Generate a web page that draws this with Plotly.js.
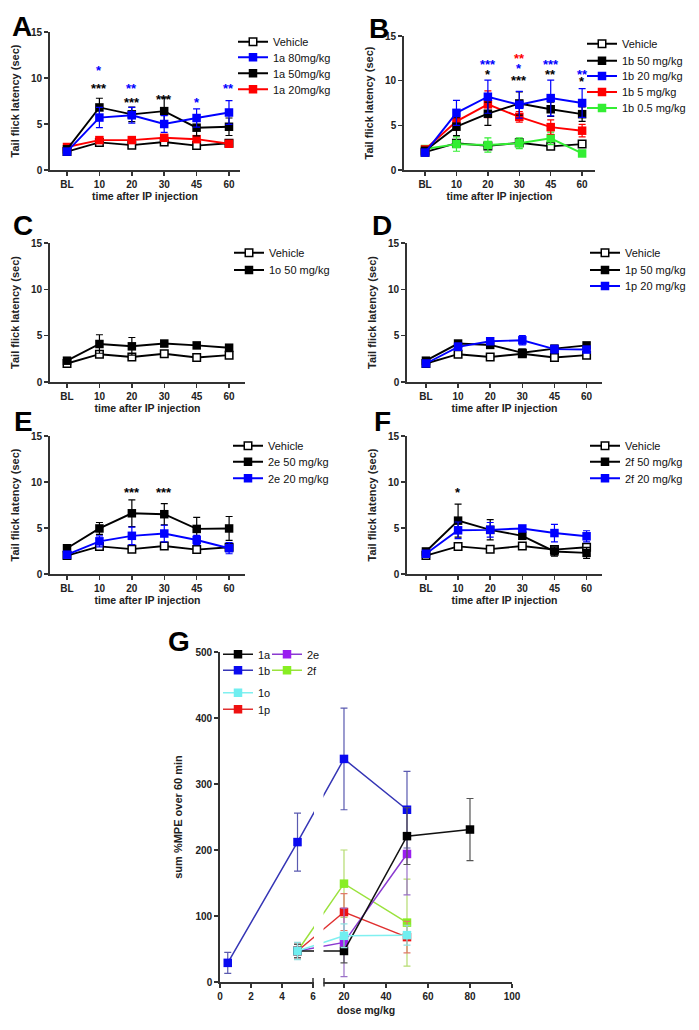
<!DOCTYPE html>
<html><head><meta charset="utf-8">
<script src="https://cdn.plot.ly/plotly-3.0.1.min.js"></script>
<style>html,body{margin:0;padding:0;background:#fff}#chart{width:699px;height:1030px}</style>
</head><body><div id="chart"></div>
<script>
// ---------------- DATA ----------------
const timeCats = ['BL', '10', '20', '30', '45', '60'];

const vehicleMean = [2.0, 3.0, 2.7, 3.05, 2.65, 2.9];
const vehicleErr  = [0.2, 0.35, 0.3, 0.3, 0.3, 0.3];

// Panel A
const a80Mean = [2.0, 5.7, 5.95, 5.0, 5.65, 6.25];
const a80Err  = [0.2, 1.1, 0.85, 0.9, 1.0, 1.3];
const a50Mean = [2.25, 6.8, 6.05, 6.4, 4.6, 4.7];
const a50Err  = [0.2, 1.0, 0.8, 1.45, 0.9, 0.95];
const a20Mean = [2.5, 3.25, 3.25, 3.5, 3.35, 2.85];
const a20Err  = [0.2, 0.3, 0.3, 0.3, 0.3, 0.3];
const starsA_x = ['10', '10', '20', '20', '30', '45', '60'];
const starsA_y = [11.1, 9.15, 9.2, 7.7, 8.0, 7.7, 9.2];
const starsA_t = ['*', '***', '**', '***', '***', '*', '**'];
const starsA_c = ['blue', 'black', 'blue', 'black', 'black', 'blue', 'blue'];

// Panel B
const b50Mean  = [2.15, 4.85, 6.3, 7.45, 6.8, 6.25];
const b50Err   = [0.2, 1.0, 1.3, 1.3, 0.8, 0.8];
const b20Mean  = [1.95, 6.4, 8.2, 7.3, 8.05, 7.5];
const b20Err   = [0.2, 1.4, 1.85, 1.5, 2.0, 1.6];
const b5Mean   = [2.3, 5.45, 7.35, 5.95, 4.8, 4.4];
const b5Err    = [0.2, 1.0, 1.5, 0.6, 0.8, 0.7];
const b05Mean  = [2.35, 2.9, 2.8, 3.0, 3.55, 1.85];
const b05Err   = [0.2, 0.8, 0.8, 0.6, 0.7, 0.3];
const starsB_x = ['20', '20', '30', '30', '30', '45', '45', '60', '60'];
const starsB_y = [12.1, 11.05, 12.8, 11.65, 10.4, 12.1, 11.05, 11.05, 10.2];
const starsB_t = ['***', '*', '**', '*', '***', '***', '**', '**', '*'];
const starsB_c = ['blue', 'black', 'red', 'blue', 'black', 'blue', 'black', 'blue', 'black'];

// Panel C
const o50Mean = [2.3, 4.1, 3.85, 4.15, 3.95, 3.7];
const o50Err  = [0.2, 1.0, 0.95, 0.3, 0.3, 0.25];

// Panel D
const p50Mean = [2.3, 4.15, 4.0, 3.15, 3.6, 3.95];
const p50Err  = [0.2, 0.3, 0.3, 0.4, 0.3, 0.3];
const p20Mean = [2.0, 3.8, 4.4, 4.5, 3.55, 3.5];
const p20Err  = [0.2, 0.4, 0.3, 0.5, 0.4, 0.3];

// Panel E
const e50Mean = [2.8, 4.95, 6.6, 6.5, 4.9, 4.95];
const e50Err  = [0.2, 0.65, 1.45, 1.15, 1.25, 1.3];
const e20Mean = [2.1, 3.55, 4.15, 4.4, 3.7, 2.8];
const e20Err  = [0.2, 0.6, 0.95, 0.9, 0.5, 0.6];
const starsE_x = ['20', '30'];
const starsE_y = [9.15, 9.15];
const starsE_t = ['***', '***'];
const starsE_c = ['black', 'black'];

// Panel F
const f50Mean = [2.45, 5.8, 4.8, 4.15, 2.45, 2.3];
const f50Err  = [0.2, 1.8, 1.1, 0.4, 0.5, 0.6];
const f20Mean = [2.2, 4.75, 4.8, 4.95, 4.45, 4.1];
const f20Err  = [0.2, 0.9, 0.8, 0.3, 0.95, 0.6];
const starsF_x = ['10'];
const starsF_y = [9.15];
const starsF_t = ['*'];
const starsF_c = ['black'];

// Panel G (dose mg/kg vs sum %MPE over 60 min)
const g1aDose = [5, 20, 50, 80];
const g1aMean = [47, 47, 221, 231];
const g1aErr  = [10, 18, 43, 47];
const g1bDose = [0.5, 5, 20, 50];
const g1bMean = [29, 212, 338, 261];
const g1bErr  = [16, 44, 77, 58];
const g1oDose = [5, 20, 50];
const g1oMean = [47, 70, 71];
const g1oErr  = [13, 18, 15];
const g1pDose = [5, 20, 50];
const g1pMean = [47, 106, 68];
const g1pErr  = [10, 28, 24];
const g2eDose = [5, 20, 50];
const g2eMean = [47, 60, 194];
const g2eErr  = [10, 52, 62];
const g2fDose = [5, 20, 50];
const g2fMean = [47, 149, 90];
const g2fErr  = [10, 51, 66];
const gTickDoses = [0, 2, 4, 6, 20, 40, 60, 80, 100];
const gTickText  = ['0', '2', '4', '6', '20', '40', '60', '80', '100'];

// ---------------- LAYOUT HELPERS ----------------
const W = 699, H = 1030;
const F = 'Liberation Sans, Arial, Helvetica, sans-serif';
const px = v => v / W;
const py = v => 1 - v / H;
const COL = {black: '#000000', blue: '#0000ff', red: '#ff0000', green: '#33ee33'};

const layout = {
  width: W, height: H, margin: {l: 0, r: 0, t: 0, b: 0},
  paper_bgcolor: '#fff', plot_bgcolor: 'rgba(0,0,0,0)',
  showlegend: true, font: {family: F, color: '#111'},
  annotations: [], shapes: [], hovermode: false
};
const data = [];
let legendCount = 0;
function newLegend(textX, yc) {
  legendCount++;
  const id = legendCount === 1 ? 'legend' : 'legend' + legendCount;
  layout[id] = {x: px(textX - 40), y: py(yc), xanchor: 'left', yanchor: 'middle',
    bgcolor: 'rgba(0,0,0,0)', borderwidth: 0, itemclick: false, itemdoubleclick: false,
    font: {family: F, size: 11, color: '#111'}};
  return id;
}
function axId(n) { return n === 1 ? '' : String(n); }

function addSeries(n, x, y, e, name, color, legendId, open, st) {
  const a = axId(n);
  st = st || {};
  data.push({
    type: 'scatter', mode: 'lines+markers', x: x, y: y, name: name,
    xaxis: 'x' + a, yaxis: 'y' + a, legend: legendId,
    line: {color: st.line || color, width: st.lw || 1.9},
    marker: open ? {symbol: 'square', size: 7.5, color: '#ffffff', line: {color: color, width: 1.5}}
                 : {symbol: 'square', size: 8.5, color: color, line: {width: 0}},
    error_y: {type: 'data', array: e, visible: true, color: st.err || color, thickness: 1.2, width: 3.5},
    hoverinfo: 'skip'
  });
}

const axBase = () => ({showline: true, linecolor: '#333', linewidth: 1.8, ticks: 'outside', ticklen: 4,
  tickwidth: 1.5, tickcolor: '#333', showgrid: false, zeroline: false, fixedrange: true,
  tickfont: {family: F, size: 10, weight: 'bold', color: '#222'}});

// Panels A-F
const panels = [
  {n: 1, x: [50, 240], y: [32, 170], rng: [-0.525, 5.34], letter: 'A', lx: 22, ly: 27},
  {n: 2, x: [404, 595], y: [36, 170], rng: [-0.67, 5.41], letter: 'B', lx: 379, ly: 28},
  {n: 3, x: [50, 245], y: [243, 382], rng: [-0.525, 5.49], letter: 'C', lx: 23, ly: 225},
  {n: 4, x: [407, 602], y: [243, 382], rng: [-0.59, 5.48], letter: 'D', lx: 382, ly: 225},
  {n: 5, x: [50, 245], y: [436, 574], rng: [-0.525, 5.49], letter: 'E', lx: 23, ly: 421},
  {n: 6, x: [407, 602], y: [436, 574], rng: [-0.59, 5.48], letter: 'F', lx: 382, ly: 421}
];
panels.forEach(p => {
  const a = axId(p.n);
  layout['xaxis' + a] = Object.assign(axBase(), {
    type: 'category', categoryorder: 'array', categoryarray: timeCats, range: p.rng,
    domain: [px(p.x[0]), px(p.x[1])], anchor: 'y' + a,
    title: {text: 'time after IP injection', font: {family: F, size: 10.5, weight: 'bold', color: '#222'}, standoff: 3}
  });
  layout['yaxis' + a] = Object.assign(axBase(), {
    range: [0, 15], tickvals: [0, 5, 10, 15], domain: [py(p.y[1]), py(p.y[0])], anchor: 'x' + a,
    title: {text: 'Tail flick latency (sec)', font: {family: F, size: 11, weight: 'bold', color: '#222'}, standoff: 9}
  });
  layout.annotations.push({xref: 'paper', yref: 'paper', x: px(p.lx), y: py(p.ly), text: p.letter,
    showarrow: false, xanchor: 'center', yanchor: 'middle', font: {family: F, size: 28, weight: 'bold', color: '#000'}});
});

function addStars(n, xs, ys, ts, cs) {
  const a = axId(n);
  xs.forEach((x, i) => layout.annotations.push({xref: 'x' + a, yref: 'y' + a, x: timeCats.indexOf(x), y: ys[i], text: ts[i],
    showarrow: false, yshift: -3, font: {family: F, size: 13, weight: 'bold', color: COL[cs[i]]}}));
}

// Panel A
let L = [];
[41.7, 57.3, 73.3, 89.3].forEach(y => L.push(newLegend(273, y)));
addSeries(1, timeCats, vehicleMean, vehicleErr, 'Vehicle', COL.black, L[0], true);
addSeries(1, timeCats, a20Mean, a20Err, '1a 20mg/kg', COL.red, L[3]);
addSeries(1, timeCats, a50Mean, a50Err, '1a 50mg/kg', COL.black, L[2]);
addSeries(1, timeCats, a80Mean, a80Err, '1a 80mg/kg', COL.blue, L[1]);
addStars(1, starsA_x, starsA_y, starsA_t, starsA_c);

// Panel B
L = [];
[43.7, 60.7, 76, 92, 108].forEach(y => L.push(newLegend(622, y)));
addSeries(2, timeCats, vehicleMean, vehicleErr, 'Vehicle', COL.black, L[0], true);
addSeries(2, timeCats, b05Mean, b05Err, '1b 0.5 mg/kg', COL.green, L[4]);
addSeries(2, timeCats, b5Mean, b5Err, '1b 5 mg/kg', COL.red, L[3]);
addSeries(2, timeCats, b50Mean, b50Err, '1b 50 mg/kg', COL.black, L[1]);
addSeries(2, timeCats, b20Mean, b20Err, '1b 20 mg/kg', COL.blue, L[2]);
addStars(2, starsB_x, starsB_y, starsB_t, starsB_c);

// Panel C
L = [];
[252.7, 270].forEach(y => L.push(newLegend(269, y)));
addSeries(3, timeCats, vehicleMean, vehicleErr, 'Vehicle', COL.black, L[0], true);
addSeries(3, timeCats, o50Mean, o50Err, '1o 50 mg/kg', COL.black, L[1]);

// Panel D
L = [];
[252.7, 270, 286].forEach(y => L.push(newLegend(625, y)));
addSeries(4, timeCats, vehicleMean, vehicleErr, 'Vehicle', COL.black, L[0], true);
addSeries(4, timeCats, p50Mean, p50Err, '1p 50 mg/kg', COL.black, L[1]);
addSeries(4, timeCats, p20Mean, p20Err, '1p 20 mg/kg', COL.blue, L[2]);

// Panel E
L = [];
[445.7, 461.7, 478.3].forEach(y => L.push(newLegend(268, y)));
addSeries(5, timeCats, vehicleMean, vehicleErr, 'Vehicle', COL.black, L[0], true);
addSeries(5, timeCats, e50Mean, e50Err, '2e 50 mg/kg', COL.black, L[1]);
addSeries(5, timeCats, e20Mean, e20Err, '2e 20 mg/kg', COL.blue, L[2]);
addStars(5, starsE_x, starsE_y, starsE_t, starsE_c);

// Panel F
L = [];
[445.7, 461.7, 478.3].forEach(y => L.push(newLegend(625, y)));
addSeries(6, timeCats, vehicleMean, vehicleErr, 'Vehicle', COL.black, L[0], true);
addSeries(6, timeCats, f50Mean, f50Err, '2f 50 mg/kg', COL.black, L[1]);
addSeries(6, timeCats, f20Mean, f20Err, '2f 20 mg/kg', COL.blue, L[2]);
addStars(6, starsF_x, starsF_y, starsF_t, starsF_c);

// ---------------- PANEL G (broken x axis) ----------------
const G0 = 220, GPX = 15.5, SEG2_U = 104, SEG2_D0 = 10.48, SEG2_K = 2.1;
function doseToU(d) { return d <= 6 ? d * GPX : SEG2_U + (d - SEG2_D0) * SEG2_K; }
const uMax = doseToU(100);
layout.xaxis7 = Object.assign(axBase(), {
  range: [0, uMax], domain: [px(G0), px(G0 + uMax)], anchor: 'y7',
  tickvals: gTickDoses.map(doseToU), ticktext: gTickText,
  title: {text: 'dose mg/kg', font: {family: F, size: 10.5, weight: 'bold', color: '#222'}, standoff: 6}
});
layout.yaxis7 = Object.assign(axBase(), {
  range: [0, 500], dtick: 100, domain: [py(982), py(652)], anchor: 'x7',
  title: {text: 'sum %MPE over 60 min', font: {family: F, size: 11, weight: 'bold', color: '#222'}, standoff: 11}
});
layout.annotations.push({xref: 'paper', yref: 'paper', x: px(179), y: py(641), text: 'G',
  showarrow: false, xanchor: 'center', yanchor: 'middle', font: {family: F, size: 28, weight: 'bold', color: '#000'}});

const gL = {};
gL['1a'] = newLegend(258, 654.3);
gL['1b'] = newLegend(258, 670.3);
gL['1o'] = newLegend(258, 692.7);
gL['1p'] = newLegend(258, 709.3);
gL['2e'] = newLegend(307, 654.3);
gL['2f'] = newLegend(307, 670.3);

addSeries(7, g2fDose.map(doseToU), g2fMean, g2fErr, '2f', '#88ee22', gL['2f'], false, {line: '#9ae23c', err: '#b5dc70', lw: 1.5});
addSeries(7, g1pDose.map(doseToU), g1pMean, g1pErr, '1p', '#ee1111', gL['1p'], false, {line: '#e03030', err: '#e07a6a', lw: 1.5});
addSeries(7, g2eDose.map(doseToU), g2eMean, g2eErr, '2e', '#9a1ef0', gL['2e'], false, {line: '#8a3ad0', err: '#9a70c8', lw: 1.5});
addSeries(7, g1bDose.map(doseToU), g1bMean, g1bErr, '1b', '#0a0af0', gL['1b'], false, {line: '#3535b5', err: '#5a5ab0', lw: 1.5});
addSeries(7, g1aDose.map(doseToU), g1aMean, g1aErr, '1a', '#000000', gL['1a'], false, {line: '#111111', err: '#555555', lw: 1.5});
addSeries(7, g1oDose.map(doseToU), g1oMean, g1oErr, '1o', '#70eef0', gL['1o'], false, {line: '#80f0f0', err: '#90e0e0', lw: 1.5});

// axis break: mask gap and draw end marks
const gapL = G0 + doseToU(6) + 1, gapR = G0 + SEG2_U - 0.5;
layout.shapes.push({type: 'rect', xref: 'paper', yref: 'paper', x0: px(gapL), x1: px(gapR), y0: py(984.5), y1: py(640),
  fillcolor: '#ffffff', line: {width: 0}, layer: 'above'});
[G0 + doseToU(6), G0 + SEG2_U].forEach(xp => layout.shapes.push({type: 'line', xref: 'paper', yref: 'paper',
  x0: px(xp), x1: px(xp), y0: py(978), y1: py(986.5), line: {color: '#333', width: 1.5}, layer: 'above'}));

Plotly.newPlot('chart', data, layout, {staticPlot: true, displayModeBar: false});
</script>
</body></html>
